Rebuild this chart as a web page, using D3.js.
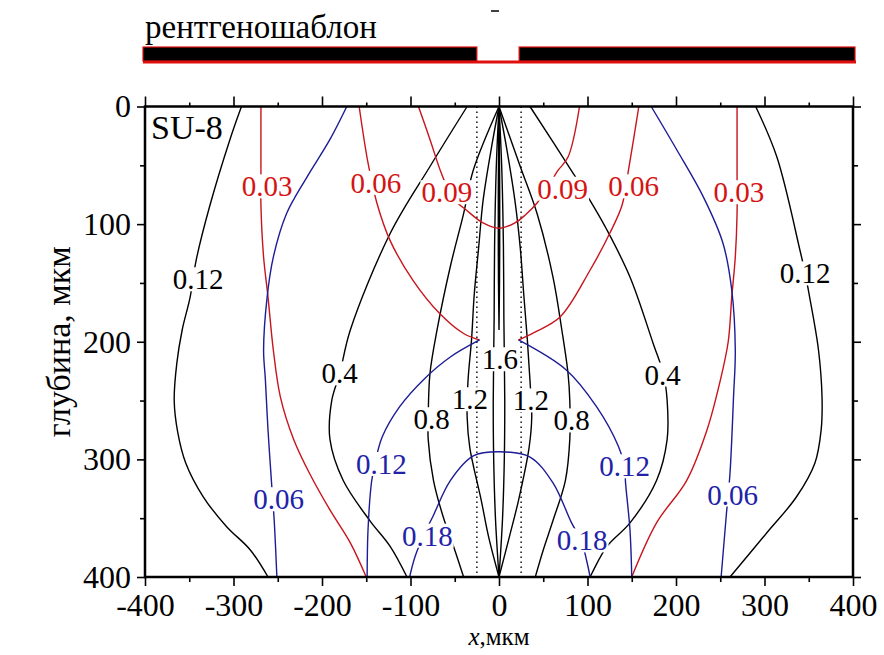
<!DOCTYPE html>
<html>
<head>
<meta charset="utf-8">
<script src="https://cdn.jsdelivr.net/npm/d3@7"></script>
<style>
  body { margin: 0; background: #fff; }
  svg text { font-family: "Liberation Serif", "Times New Roman", Times, "Nimbus Roman", "DejaVu Serif", serif; }
</style>
</head>
<body>
<svg id="chart" width="884" height="655"></svg>
<script>
// Axis ticks (µm)
const xTickValues = [-400, -300, -200, -100, 0, 100, 200, 300, 400];
const yTickValues = [0, 100, 200, 300, 400];
const xMinorValues = [-350, -250, -150, -50, 50, 150, 250, 350];
const yMinorValues = [50, 150, 250, 350];

// Mask opening edges (µm)
const maskOpening = [-25, 25];

// Black dose contours: [x, depth] in µm
const black012Left  = [[-291,0],[-304,28],[-327,85],[-342,130],[-349,162],[-358,190],[-364,218],[-367,250],[-363,277],[-354,303],[-334,332],[-308,357],[-281,377],[-261,400]];
const black012Right = [[290,0],[314,43],[340,122],[346,142],[351,162],[361,207],[365,247],[364,275],[357,303],[336,332],[302,363],[261,400]];
const black04Left   = [[-36,0],[-78,51],[-123,108],[-168,190],[-180,227],[-189,250],[-191,283],[-176,318],[-146,352],[-123,374],[-104,400]];
const black04Right  = [[35,0],[84,57],[103,80],[122,105],[148,145],[174,201],[186,228],[190,250],[190,283],[178,318],[148,354],[122,374],[103,400]];
const black08Left   = [[0,0],[-29,54],[-40,91],[-55,136],[-70,190],[-78,227],[-80,265],[-80,283],[-74,318],[-63,349],[-50,377],[-40,400]];
const black08Right  = [[0,0],[24,51],[43,91],[61,145],[71,190],[78,227],[80,250],[80,283],[75,318],[61,352],[50,377],[41,400]];
const black12Left   = [[0,0],[-9,37],[-18,80],[-23,120],[-28,160],[-31,198],[-35,233],[-36,264],[-33,290],[-20,335],[-12,365],[0,400]];
const black12Right  = [[0,0],[9,37],[18,80],[24,120],[28,160],[32,198],[35,233],[37,264],[34,290],[22,335],[12,365],[0,400]];
const black16Left   = [[0,0],[-3,50],[-5,119],[-5.5,180],[-6.5,250],[-6,300],[-4,350],[0,400]];
const black16Right  = [[0,0],[3,50],[5,119],[5.5,180],[6.5,250],[6,300],[4,350],[0,400]];
const blackCore     = [[0,0],[-0.7,60],[-0.8,120],[0,190],[0.8,120],[0.7,60],[0,0]];

// Red contours (upper field)
const red003Left  = [[-269,0],[-269,54],[-269,84],[-266,128],[-261,162],[-255,207],[-247,247],[-232,283],[-214,312],[-191,343],[-168,371],[-150,400]];
const red003Right = [[269,0],[269,57],[269,91],[267,128],[263,162],[259,200],[250,233],[235,275],[212,318],[178,354],[150,400]];
const red006Left  = [[-158,0],[-148,48],[-138,82],[-123,114],[-97,148],[-67,176],[-40,193],[-22,198.5]];
const red006Right = [[158,0],[147,51],[139,84],[125,108],[103,139],[69,179],[40,192],[22,198.5]];
const red009      = [[-91,0],[-78,28],[-65,57],[-52,78],[-37,88],[-18,99],[0,103.5],[18,99],[30,92],[43,82],[56,68],[66,55],[78,43],[91,0]];

// Blue contours (lower field)
const blue006Left  = [[-172,0],[-191,28],[-217,60],[-240,91],[-255,128],[-262,162],[-266,207],[-264,232],[-261,275],[-257,320],[-254,352],[-251,400]];
const blue006Right = [[172,0],[201,37],[231,77],[253,116],[263,156],[267,207],[265,247],[261,312],[257,346],[251,400]];
const blue012Left  = [[-22,198.5],[-55,213],[-85,232],[-112,255],[-132,281],[-140,303],[-144,319],[-148,360],[-149,400]];
const blue012Right = [[22,198.5],[76,224],[110,255],[135,289],[142,306],[143,320],[148,360],[150,400]];
const blue018      = [[-101,400],[-95,383],[-86,366],[-75,349],[-55,318],[-29,297],[0,293.5],[35,298],[61,320],[82,354],[93,369],[99,386],[103,400]];

// Contour labels: text and anchor point [x, depth] in µm
const blackLabels = [["0.12",-340,147],["0.12",346,142],["0.4",-180,227],["0.4",185,228],["0.8",-76,266],["0.8",82,267],["1.2",-33,249],["1.2",36,250],["1.6",1,215]];
const redLabels   = [["0.03",-262,68],["0.03",271,73],["0.06",-139,65],["0.06",152,68],["0.09",-59,73],["0.09",72,70]];
const blueLabels  = [["0.06",-249,334],["0.06",264,330],["0.12",-133,304],["0.12",142,306],["0.18",-81,365],["0.18",94,369]];

const BLACK = "#000000", RED = "#c8141c", BLUE = "#1c1c96";
const RED_TEXT = "#d41414", BLUE_TEXT = "#2222a8";
const SERIF = "'Liberation Serif', 'Times New Roman', Times, 'Nimbus Roman', 'DejaVu Serif', serif";

const svg = d3.select("#chart");
svg.append("rect").attr("width", 884).attr("height", 655).attr("fill", "#fff");

const x = d3.scaleLinear().domain([-400, 400]).range([145, 853]);
const y = d3.scaleLinear().domain([0, 400]).range([106.5, 577]);

// ---- mask strip above the plot ----
svg.append("text").attr("x", 145).attr("y", 38).attr("font-size", 33).attr("font-family", SERIF)
  .text("рентгеношаблон");
svg.append("line").attr("x1", 491).attr("x2", 499).attr("y1", 11).attr("y2", 11)
  .attr("stroke", "#000").attr("stroke-width", 1.5);
const mask = svg.append("g");
mask.append("line").attr("x1", x(-400) - 2).attr("x2", x(400) + 3)
  .attr("y1", 62).attr("y2", 62).attr("stroke", "#e01010").attr("stroke-width", 3);
[[-400, maskOpening[0]], [maskOpening[1], 400]].forEach(([a, b], i) => {
  mask.append("rect")
    .attr("x", x(a) - 2).attr("y", 47)
    .attr("width", x(b) - x(a) + (i ? 4 : 2)).attr("height", 14)
    .attr("fill", "#000").attr("stroke", "#e01010").attr("stroke-width", 1.2);
});

// ---- contours ----
const line = d3.line().x(d => x(d[0])).y(d => y(d[1])).curve(d3.curveCatmullRom.alpha(0.5));
const plot = svg.append("g");

// mask opening edges, dotted
maskOpening.forEach(v => {
  plot.append("line").attr("x1", x(v)).attr("x2", x(v)).attr("y1", y(0)).attr("y2", y(400))
    .attr("stroke", "#000").attr("stroke-width", 1.4).attr("stroke-dasharray", "1.6,3.4");
});

const contours = [
  [black012Left, BLACK], [black012Right, BLACK], [black04Left, BLACK], [black04Right, BLACK],
  [black08Left, BLACK], [black08Right, BLACK], [black12Left, BLACK], [black12Right, BLACK],
  [black16Left, BLACK], [black16Right, BLACK], [blackCore, BLACK],
  [red003Left, RED], [red003Right, RED], [red006Left, RED], [red006Right, RED], [red009, RED],
  [blue006Left, BLUE], [blue006Right, BLUE], [blue012Left, BLUE], [blue012Right, BLUE], [blue018, BLUE]
];
contours.forEach(([pts, col]) => {
  plot.append("path").attr("d", line(pts)).attr("fill", "none")
    .attr("stroke", col).attr("stroke-width", 1.4);
});

// ---- labels with white knock-out boxes ----
const labelG = svg.append("g");
function addLabels(list, col) {
  list.forEach(([t, vx, vy]) => {
    const g = labelG.append("g");
    const txt = g.append("text").attr("x", x(vx)).attr("y", y(vy)).attr("dy", "0.34em")
      .attr("text-anchor", "middle").attr("font-size", 29).attr("font-family", SERIF)
      .attr("fill", col).text(t);
    const bb = txt.node().getBBox();
    g.insert("rect", "text").attr("x", bb.x - 1).attr("y", bb.y + 4)
      .attr("width", bb.width + 2).attr("height", bb.height - 8).attr("fill", "#fff");
  });
}
addLabels(blackLabels, "#000");
addLabels(redLabels, RED_TEXT);
addLabels(blueLabels, BLUE_TEXT);

// ---- axes ----
const axes = svg.append("g");
function styleAxis(g) {
  g.select(".domain").remove();
  g.selectAll("line").attr("stroke", "#000").attr("stroke-width", 1.6);
  g.selectAll("text").attr("font-size", 32).attr("fill", "#000").attr("font-family", SERIF);
}
const fmt = d => d < 0 ? "-" + Math.abs(d) : String(d);

axes.append("g").attr("transform", `translate(0,${y(400)})`)
  .call(d3.axisBottom(x).tickValues(xTickValues).tickSize(9).tickPadding(7).tickFormat(fmt)).call(styleAxis);
axes.append("g").attr("transform", `translate(0,${y(400)})`)
  .call(d3.axisBottom(x).tickValues(xMinorValues).tickSize(5).tickFormat("")).call(styleAxis);
axes.append("g").attr("transform", `translate(0,${y(0)})`)
  .call(d3.axisTop(x).tickValues(xTickValues).tickSize(10).tickFormat("")).call(styleAxis);
axes.append("g").attr("transform", `translate(0,${y(0)})`)
  .call(d3.axisTop(x).tickValues(xMinorValues).tickSize(4).tickFormat("")).call(styleAxis);
axes.append("g").attr("transform", `translate(${x(-400)},0)`)
  .call(d3.axisLeft(y).tickValues(yTickValues).tickSize(8).tickPadding(6).tickFormat(fmt)).call(styleAxis);
axes.append("g").attr("transform", `translate(${x(-400)},0)`)
  .call(d3.axisLeft(y).tickValues(yMinorValues).tickSize(5).tickFormat("")).call(styleAxis);
axes.append("g").attr("transform", `translate(${x(400)},0)`)
  .call(d3.axisRight(y).tickValues(yTickValues).tickSize(8).tickFormat("")).call(styleAxis);
axes.append("g").attr("transform", `translate(${x(400)},0)`)
  .call(d3.axisRight(y).tickValues(yMinorValues).tickSize(5).tickFormat("")).call(styleAxis);

axes.append("rect").attr("x", x(-400)).attr("y", y(0))
  .attr("width", x(400) - x(-400)).attr("height", y(400) - y(0))
  .attr("fill", "none").attr("stroke", "#000").attr("stroke-width", 2.5);

// material name
svg.append("text").attr("x", 151).attr("y", 139).attr("font-size", 34).attr("font-family", SERIF).text("SU-8");

// axis titles
svg.append("text").attr("transform", `translate(70,${(y(0) + y(400)) / 2}) rotate(-90)`)
  .attr("text-anchor", "middle").attr("font-size", 34).attr("font-family", SERIF).text("глубина, мкм");
const xt = svg.append("text").attr("x", 499).attr("y", 645).attr("text-anchor", "middle")
  .attr("font-size", 25).attr("font-family", SERIF);
xt.append("tspan").attr("font-style", "italic").text("x");
xt.append("tspan").text(",мкм");
</script>
</body>
</html>
